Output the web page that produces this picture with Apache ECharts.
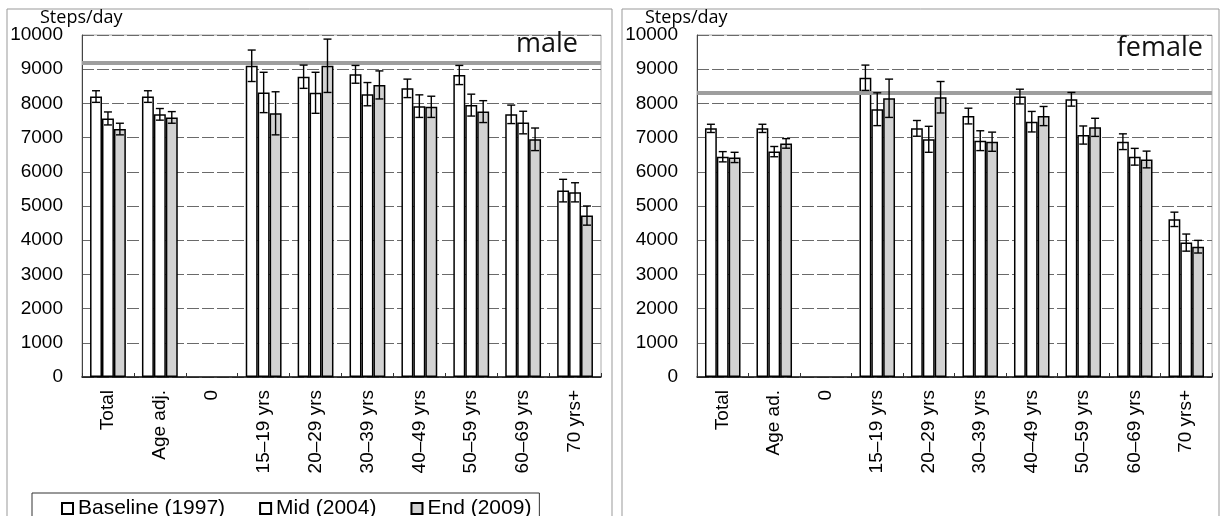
<!DOCTYPE html>
<html>
<head>
<meta charset="utf-8">
<script src="https://cdn.jsdelivr.net/npm/echarts@6/dist/echarts.min.js"></script>
<style>
  html, body { margin: 0; padding: 0; background: #fff; }
  #chart { width: 1221px; height: 516px; }
</style>
</head>
<body>
<div id="chart"></div>
<script>
// categories
const catsMale = ['Total', 'Age adj.', '0', '15–19 yrs', '20–29 yrs', '30–39 yrs', '40–49 yrs', '50–59 yrs', '60–69 yrs', '70 yrs+'];
const catsFemale = ['Total', 'Age ad.', '0', '15–19 yrs', '20–29 yrs', '30–39 yrs', '40–49 yrs', '50–59 yrs', '60–69 yrs', '70 yrs+'];
const seriesNames = ['Baseline (1997)', 'Mid (2004)', 'End (2009)'];
const yTicks = [0, 10000, 1000]; // min, max, step

// male, steps/day
const maleBase = [8200, 8200, null, 9100, 8780, 8850, 8440, 8830, 7680, 5450];
const maleMid  = [7560, 7680, null, 8320, 8310, 8270, 7920, 7950, 7440, 5400];
const maleEnd  = [7250, 7590, null, 7710, 9100, 8540, 7900, 7760, 6950, 4720];
const maleBaseErr = [170, 170, null, 460, 340, 260, 270, 280, 270, 330];
const maleMidErr  = [190, 170, null, 590, 600, 340, 330, 320, 330, 280];
const maleEndErr  = [170, 170, null, 630, 780, 410, 310, 320, 330, 280];
const maleRef = 9200;

// female, steps/day
const femaleBase = [7270, 7270, null, 8750, 7270, 7630, 8200, 8120, 6880, 4610];
const femaleMid  = [6440, 6590, null, 7830, 6950, 6910, 7465, 7075, 6440, 3930];
const femaleEnd  = [6420, 6830, null, 8150, 8180, 6880, 7630, 7300, 6360, 3810];
const femaleBaseErr = [120, 120, null, 370, 230, 230, 215, 200, 230, 210];
const femaleMidErr  = [150, 150, null, 480, 380, 290, 300, 265, 245, 250];
const femaleEndErr  = [150, 140, null, 560, 460, 280, 280, 265, 245, 185];
const femaleRef = 8300;

const GAP = 0.31;
const sans = 'Liberation Sans';
const barColors = ['#ffffff', '#ffffff', '#d2d2d2'];

function errData(vals, errs) {
  const out = [];
  vals.forEach((arr, k) => {
    arr.forEach((v, i) => {
      if (v != null) out.push([i, v, errs[k][i], k]);
    });
  });
  return out;
}

function renderErr(params, api) {
  const cat = api.value(0), v = api.value(1), e = api.value(2), k = api.value(3);
  const band = api.size([1, 0])[0];
  const bw = band * (1 - GAP) / 3;
  const cx = api.coord([cat, v])[0] + (k - 1) * bw;
  const yHi = api.coord([cat, v + e])[1];
  const yLo = api.coord([cat, v - e])[1];
  const cap = 4;
  const style = { stroke: '#000', lineWidth: 1.4 };
  return {
    type: 'group',
    children: [
      { type: 'line', shape: { x1: cx, y1: yHi, x2: cx, y2: yLo }, style },
      { type: 'line', shape: { x1: cx - cap, y1: yHi, x2: cx + cap, y2: yHi }, style },
      { type: 'line', shape: { x1: cx - cap, y1: yLo, x2: cx + cap, y2: yLo }, style }
    ]
  };
}

const xLabel = { fontSize: 19, fontFamily: sans, color: '#000' };
const yLabel = { fontSize: 19, fontFamily: sans, color: '#000' };

function xAxis(cats, gi) {
  return {
    type: 'category', gridIndex: gi, data: cats,
    axisLine: { lineStyle: { color: '#111', width: 1.5 } },
    axisTick: { show: true, inside: true, length: 4, lineStyle: { color: '#333' } },
    axisLabel: Object.assign({ rotate: 90, margin: 13, interval: 0, textStyle: xLabel }, xLabel)
  };
}

function yAxis(gi) {
  return {
    type: 'value', gridIndex: gi, min: yTicks[0], max: yTicks[1], interval: yTicks[2],
    axisLine: { show: true, lineStyle: { color: '#444' } },
    axisTick: { show: false },
    axisLabel: Object.assign({ margin: 19, formatter: v => String(v), textStyle: yLabel }, yLabel),
    splitLine: { lineStyle: { color: '#6a6a6a', type: [12, 3] } }
  };
}

function bars(vals, gi, ref) {
  return vals.map((arr, k) => ({
    name: seriesNames[k], type: 'bar', xAxisIndex: gi, yAxisIndex: gi,
    data: arr, barGap: '0%', barCategoryGap: (GAP * 100) + '%',
    itemStyle: { color: barColors[k], borderColor: '#000', borderWidth: 1.5 },
    emphasis: { disabled: true },
    markLine: k === 2 ? {
      silent: true, symbol: 'none', label: { show: false },
      lineStyle: { color: '#9e9e9e', width: 4, type: 'solid' },
      data: [{ yAxis: ref }]
    } : undefined
  }));
}

const chart = echarts.init(document.getElementById('chart'));
chart.setOption({
  animation: false,
  title: [
    { text: 'Steps/day', left: 40, top: 9, padding: 0, textStyle: { fontSize: 18, fontWeight: 'normal', fontFamily: 'Open Sans', color: '#000' } },
    { text: 'Steps/day', left: 645, top: 9, padding: 0, textStyle: { fontSize: 18, fontWeight: 'normal', fontFamily: 'Open Sans', color: '#000' } },
    { text: 'male', right: 643, top: 31, padding: 0, textStyle: { fontSize: 27, fontWeight: 'normal', fontFamily: 'Open Sans', color: '#111' } },
    { text: 'female', right: 18, top: 35, padding: 0, textStyle: { fontSize: 27, fontWeight: 'normal', fontFamily: 'Open Sans', color: '#111' } }
  ],
  legend: {
    data: seriesNames, left: 32, top: 493,
    icon: 'rect', itemWidth: 11, itemHeight: 11, itemGap: 34,
    padding: [5, 8, 20, 29], borderColor: '#333', borderWidth: 1,
    textStyle: { fontSize: 21, fontFamily: sans, color: '#000' }
  },
  grid: [
    { left: 82, top: 35, width: 519, height: 342, show: true, borderColor: '#aaa', borderWidth: 1 },
    { left: 697, top: 35, width: 515, height: 342, show: true, borderColor: '#aaa', borderWidth: 1 }
  ],
  xAxis: [xAxis(catsMale, 0), xAxis(catsFemale, 1)],
  yAxis: [yAxis(0), yAxis(1)],
  graphic: [
    { type: 'rect', silent: true, shape: { x: 7, y: 9, width: 605, height: 530 }, style: { fill: null, stroke: '#999', lineWidth: 1 } },
    { type: 'rect', silent: true, shape: { x: 622, y: 9, width: 597, height: 530 }, style: { fill: null, stroke: '#999', lineWidth: 1 } }
  ],
  series: [
    ...bars([maleBase, maleMid, maleEnd], 0, maleRef),
    ...bars([femaleBase, femaleMid, femaleEnd], 1, femaleRef),
    {
      type: 'custom', xAxisIndex: 0, yAxisIndex: 0, z: 5, silent: true,
      renderItem: renderErr, encode: { x: 0, y: 1 },
      data: errData([maleBase, maleMid, maleEnd], [maleBaseErr, maleMidErr, maleEndErr])
    },
    {
      type: 'custom', xAxisIndex: 1, yAxisIndex: 1, z: 5, silent: true,
      renderItem: renderErr, encode: { x: 0, y: 1 },
      data: errData([femaleBase, femaleMid, femaleEnd], [femaleBaseErr, femaleMidErr, femaleEndErr])
    }
  ]
});
</script>
</body>
</html>
